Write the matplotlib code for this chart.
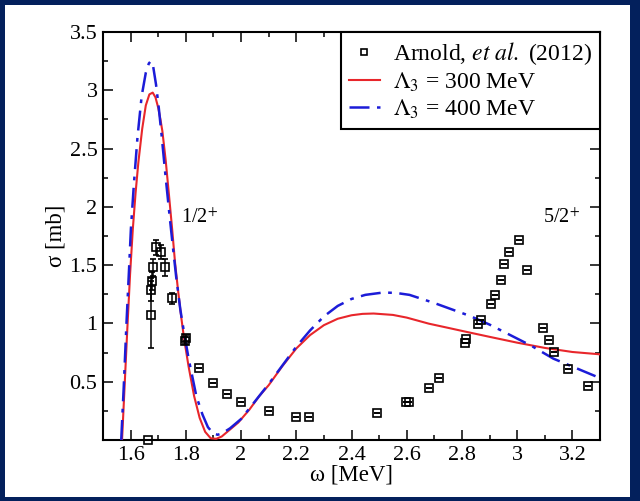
import matplotlib
matplotlib.use("Agg")
import matplotlib.pyplot as plt
from matplotlib.patches import Rectangle
from matplotlib.lines import Line2D
from matplotlib.ticker import MultipleLocator, FixedLocator

plt.rcParams['font.family'] = ['Liberation Serif', 'DejaVu Serif']
plt.rcParams['mathtext.fontset'] = 'stix'

# Experimental data (Arnold et al. 2012)
exp_w = [1.664, 1.673, 1.675, 1.678, 1.682, 1.693, 1.711, 1.725, 1.751, 1.798, 1.800,
         1.848, 1.898, 1.948, 2.001, 2.100, 2.200, 2.247, 2.494, 2.596, 2.607, 2.681,
         2.716, 2.811, 2.816, 2.859, 2.868, 2.906, 2.919, 2.941, 2.954, 2.971, 3.006,
         3.034, 3.094, 3.114, 3.132, 3.183, 3.255]
exp_s = [0.00, 1.075, 1.29, 1.365, 1.48, 1.652, 1.615, 1.48, 1.214, 0.85, 0.875,
         0.615, 0.486, 0.394, 0.325, 0.247, 0.201, 0.201, 0.232, 0.327, 0.327, 0.447,
         0.536, 0.832, 0.868, 0.992, 1.033, 1.168, 1.242, 1.371, 1.51, 1.616, 1.712,
         1.458, 0.961, 0.857, 0.755, 0.605, 0.463]
exp_err = [0.0, 0.29, 0.10, 0.08, 0.07, 0.065, 0.06, 0.07, 0.05, 0.03, 0.03,
           0, 0, 0, 0, 0, 0, 0, 0, 0, 0, 0, 0, 0, 0, 0, 0, 0, 0, 0, 0, 0, 0, 0, 0, 0, 0, 0, 0]

# Lambda_3 = 300 MeV
red_w = [1.569, 1.578, 1.588, 1.598, 1.608, 1.618, 1.628, 1.642, 1.655, 1.668, 1.680,
         1.690, 1.700, 1.708, 1.715, 1.727, 1.739, 1.750, 1.761, 1.772, 1.783, 1.794,
         1.810, 1.830, 1.850, 1.870, 1.890, 1.910, 1.930, 1.950, 1.990, 2.030, 2.066,
         2.100, 2.150, 2.200, 2.250, 2.300, 2.350, 2.400, 2.440, 2.480, 2.550, 2.600,
         2.680, 2.750, 2.800, 2.900, 3.000, 3.100, 3.200, 3.300]
red_s = [0.00, 0.45, 0.95, 1.42, 1.81, 2.12, 2.38, 2.67, 2.87, 2.965, 2.98,
         2.94, 2.85, 2.75, 2.65, 2.40, 2.10, 1.82, 1.52, 1.28, 1.06, 0.864,
         0.63, 0.377, 0.19, 0.07, 0.015, 0.01, 0.03, 0.07, 0.15, 0.26, 0.377,
         0.47, 0.635, 0.785, 0.90, 0.985, 1.04, 1.07, 1.082, 1.085, 1.073, 1.05,
         0.998, 0.962, 0.936, 0.885, 0.835, 0.79, 0.755, 0.735]

# Lambda_3 = 400 MeV
blue_w = [1.566, 1.575, 1.585, 1.595, 1.601, 1.612, 1.625, 1.640, 1.655, 1.666, 1.673,
          1.682, 1.692, 1.702, 1.712, 1.725, 1.740, 1.752, 1.765, 1.780, 1.795, 1.810,
          1.838, 1.860, 1.880, 1.900, 1.915, 1.930, 1.960, 2.000, 2.050, 2.100, 2.150,
          2.200, 2.250, 2.300, 2.350, 2.400, 2.450, 2.514, 2.560, 2.610, 2.700, 2.828,
          2.900, 3.000, 3.050, 3.131, 3.200, 3.282, 3.300]
blue_s = [0.00, 0.45, 1.00, 1.50, 1.81, 2.20, 2.60, 2.95, 3.15, 3.23, 3.25,
          3.20, 3.05, 2.85, 2.62, 2.30, 1.95, 1.68, 1.40, 1.12, 0.90, 0.70,
          0.377, 0.22, 0.11, 0.055, 0.045, 0.055, 0.10, 0.18, 0.33, 0.48, 0.64,
          0.80, 0.94, 1.06, 1.15, 1.21, 1.245, 1.265, 1.262, 1.245, 1.175, 1.065,
          0.99, 0.87, 0.81, 0.698, 0.63, 0.549, 0.53]

fig = plt.figure(figsize=(6.4, 5.01), dpi=100, facecolor='#03205c')
fig.add_artist(Rectangle((5/640, 4/501), 625/640, 492/501, transform=fig.transFigure,
                         facecolor='white', edgecolor='none', zorder=0))

ax = fig.add_axes([103/640, 1-440/501, 497/640, 408/501])
ax.set_zorder(1)

l_red, = ax.plot(red_w, red_s, color='#e8262b', lw=1.5, zorder=3)
l_blue, = ax.plot(blue_w, blue_s, color='#1c1cd8', lw=1.8, dashes=(8, 3, 1.5, 3), zorder=4)
ax.errorbar(exp_w, exp_s, yerr=exp_err, fmt='s', ms=6, mfc='none', mec='black', mew=1.2,
            ecolor='black', elinewidth=1.1, capsize=2.5, capthick=1.1,
            zorder=5, clip_on=False)

ax.set_xlim(1.5, 3.3)
ax.set_ylim(0, 3.5)
ax.xaxis.set_major_locator(FixedLocator([1.6, 1.8, 2.0, 2.2, 2.4, 2.6, 2.8, 3.0, 3.2]))
ax.set_xticklabels(['1.6', '1.8', '2', '2.2', '2.4', '2.6', '2.8', '3', '3.2'])
ax.xaxis.set_minor_locator(MultipleLocator(0.1))
ax.yaxis.set_major_locator(FixedLocator([0.5, 1.0, 1.5, 2.0, 2.5, 3.0, 3.5]))
ax.set_yticklabels(['0.5', '1', '1.5', '2', '2.5', '3', '3.5'])
ax.yaxis.set_minor_locator(MultipleLocator(0.25))
ax.tick_params(which='both', direction='in', top=True, right=True, width=1.1, labelsize=16)
ax.tick_params(which='major', length=7.5)
ax.tick_params(which='minor', length=3.5)
ax.tick_params(axis='x', pad=4)
ax.tick_params(axis='y', pad=4)
for sp in ax.spines.values():
    sp.set_linewidth(1.5)

ax.set_xlabel('ω [MeV]', fontsize=16.5, labelpad=0)
ax.set_ylabel('σ [mb]', fontsize=16.5, labelpad=2)

ax.text(1.782, 1.86, r'1/2$^{+}$', fontsize=14.5)
ax.text(3.094, 1.86, r'5/2$^{+}$', fontsize=14.5)

h_exp = Line2D([], [], ls='none', marker='s', ms=4.5, mfc='none', mec='black', mew=1.2)
leg = ax.legend([h_exp, l_red, l_blue],
                [r'Arnold, $\it{et\ al.}$ (2012)', r'$\Lambda_3$ = 300 MeV', r'$\Lambda_3$ = 400 MeV'],
                loc='upper right', borderaxespad=0, fancybox=False, edgecolor='black',
                fontsize=17, handlelength=1.3, handletextpad=0.55, labelspacing=0.15,
                borderpad=0.35, framealpha=1)
leg.get_frame().set_linewidth(1.5)

fig.savefig('out.png', dpi=100, facecolor=fig.get_facecolor())
